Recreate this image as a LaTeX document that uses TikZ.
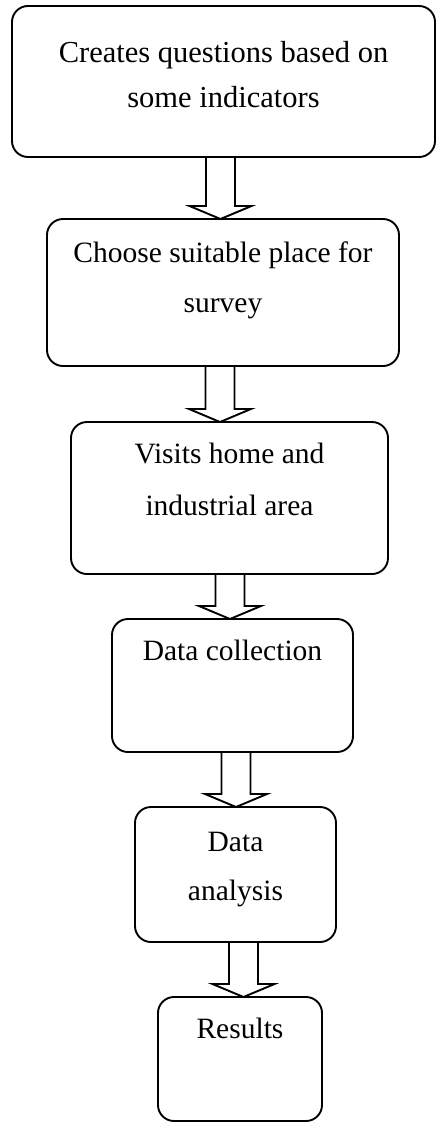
\documentclass[tikz,border=0pt]{standalone}
\usepackage{fontspec}
\setmainfont{Liberation Serif}
\usetikzlibrary{positioning,calc}

\newcommand{\hollowarrow}[3]{%
  \draw[hollow] let \p1=(#1.south), \p2=(#2.north) in
    (#3pt-14.5pt,\y1) -- (#3pt-14.5pt,\y2+13pt) -- (#3pt-31pt,\y2+13pt)
    -- (#3pt,\y2) -- (#3pt+31pt,\y2+13pt) -- (#3pt+14.5pt,\y2+13pt)
    -- (#3pt+14.5pt,\y1);}

\begin{document}
\begin{tikzpicture}[x=1pt, y=-1pt, node distance=55pt,
	box/.style={draw, rounded corners=16pt, line width=1.9pt, outer sep=0pt},
	txt/.style={align=center, anchor=base, inner sep=0pt, font=\fontsize{29.5}{50}\selectfont},
	hollow/.style={line width=1.9pt, line join=miter}]

		\useasboundingbox (0,0) rectangle (436,1122);

		\node[box, minimum width=423pt, minimum height=151pt] (b1) at (223.5,81.5) {};
		\node[box, minimum width=352pt, minimum height=147pt] (b2) [below=62pt of b1, xshift=-0.5pt] {};
		\node[box, minimum width=317pt, minimum height=152pt] (b3) [below=56pt of b2, xshift=6.5pt] {};
		\node[box, minimum width=241pt, minimum height=133pt] (b4) [below=45pt of b3, xshift=3pt] {};
		\node[box, minimum width=201pt, minimum height=135pt] (b5) [below of=b4, xshift=3pt, node distance=189pt] {};
		\node[box, minimum width=164pt, minimum height=124pt] (b6) [below=55pt of b5, xshift=4.5pt] {};

		\node[txt, font=\fontsize{30.5}{45}\selectfont] (t1) at ([yshift=-101pt]b1.north) {Creates questions based on\\some indicators};
		\node[txt] (t2) at ([yshift=-93pt]b2.north) {Choose suitable place for\\survey};
		\node[txt, font=\fontsize{29.5}{52}\selectfont] (t3) at ([yshift=-93pt]b3.north) {Visits home and\\industrial area};
		\node[txt] (t4) at ([yshift=-41pt]b4.north) {Data collection};
		\node[txt, font=\fontsize{29.5}{49}\selectfont] (t5) at ([yshift=-93pt]b5.north) {Data\\analysis};
		\node[txt] (t6) at ([yshift=-41pt]b6.north) {Results};

		\hollowarrow{b1}{b2}{220.5}
		\hollowarrow{b2}{b3}{220}
		\hollowarrow{b3}{b4}{230}
		\hollowarrow{b4}{b5}{236}
		\hollowarrow{b5}{b6}{243.5}

		\end{tikzpicture}
\end{document}
